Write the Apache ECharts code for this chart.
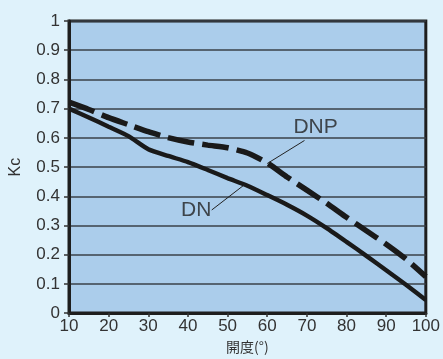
<!DOCTYPE html>
<html><head><meta charset="utf-8">
<script src="https://cdn.jsdelivr.net/npm/echarts@6/dist/echarts.min.js"></script>
<style>html,body{margin:0;padding:0;background:#dff2fb;}#c{width:443px;height:359px;}</style>
</head><body><div id="c"></div>
<script>
// Data
const angles = [10, 15, 20, 25, 30, 35, 40, 45, 50, 55, 60, 65, 70, 75, 80, 85, 90, 95, 100];
const dnValues  = [0.700, 0.670, 0.638, 0.606, 0.561, 0.538, 0.517, 0.490, 0.462, 0.436, 0.404, 0.371, 0.334, 0.291, 0.244, 0.196, 0.147, 0.097, 0.045];
const dnpValues = [0.722, 0.697, 0.669, 0.645, 0.621, 0.601, 0.586, 0.575, 0.566, 0.548, 0.514, 0.466, 0.421, 0.376, 0.328, 0.282, 0.236, 0.185, 0.125];
const yTicks = [0, 0.1, 0.2, 0.3, 0.4, 0.5, 0.6, 0.7, 0.8, 0.9, 1];
const xTicks = [10, 20, 30, 40, 50, 60, 70, 80, 90, 100];
// Annotation labels and leader lines (data coordinates)
const dnpLabel = [72.2, 0.638];
const dnpLeader = [[60.0, 0.512], [69.4, 0.591]];
const dnLabel = [42.1, 0.352];
const dnLeader = [[46.0, 0.353], [54.3, 0.440]];

const pair = (xs, ys) => xs.map((x, i) => [x, ys[i]]);
const tickFont = "'Liberation Sans', Arial, sans-serif";

const chart = echarts.init(document.getElementById('c'), null, {renderer: 'canvas'});
chart.setOption({
  backgroundColor: '#dff2fb',
  animation: false,
  grid: {left: 63, right: 17, top: 21, bottom: 44, show: true,
         backgroundColor: '#abcdeb', borderColor: '#1e1e1e', borderWidth: 3},
  xAxis: {
    type: 'value', min: xTicks[0], max: xTicks[xTicks.length - 1], interval: 10,
    name: '開度(°)', nameLocation: 'middle', nameGap: 26,
    nameTextStyle: {fontFamily: "'Noto Sans CJK JP', sans-serif", fontSize: 14, color: '#333'},
    axisLine: {show: true, lineStyle: {color: '#1e1e1e', width: 3}},
    axisTick: {show: true, length: 4, lineStyle: {color: '#333', width: 1.5}},
    axisLabel: {margin: 5, fontFamily: tickFont, fontSize: 17, color: '#333'},
    splitLine: {show: false}
  },
  yAxis: {
    type: 'value', min: yTicks[0], max: yTicks[yTicks.length - 1], interval: 0.1,
    name: 'Kc', nameLocation: 'middle', nameGap: 45, nameRotate: 90,
    nameTextStyle: {fontFamily: "'Liberation Sans', sans-serif", fontSize: 16, color: '#333'},
    axisLine: {show: true, lineStyle: {color: '#1e1e1e', width: 3}},
    axisTick: {show: true, length: 5, lineStyle: {color: '#333', width: 1.5}},
    axisLabel: {margin: 9, fontFamily: tickFont, fontSize: 17, color: '#333'},
    splitLine: {show: true, lineStyle: {color: '#3a4048', width: 1.5}}
  },
  series: [
    {name: 'DN', type: 'line', data: pair(angles, dnValues), showSymbol: false, smooth: 0.2,
     lineStyle: {color: '#1a1a1a', width: 4.4}},
    {name: 'DNP', type: 'line', data: pair(angles, dnpValues), showSymbol: false, smooth: 0.2,
     lineStyle: {color: '#1a1a1a', width: 5.5, type: [27, 8], cap: 'butt'}},
    {type: 'line', data: dnpLeader, showSymbol: false, lineStyle: {color: '#222', width: 1}},
    {type: 'line', data: dnLeader, showSymbol: false, lineStyle: {color: '#222', width: 1}},
    {type: 'scatter', symbolSize: 0,
     data: [{value: dnpLabel, name: 'DNP'}, {value: dnLabel, name: 'DN'}],
     label: {show: true, position: 'inside', formatter: p => p.name,
             fontFamily: "'Liberation Sans', Arial, sans-serif", fontSize: 21, color: '#222'}}
  ]
});
</script></body></html>
